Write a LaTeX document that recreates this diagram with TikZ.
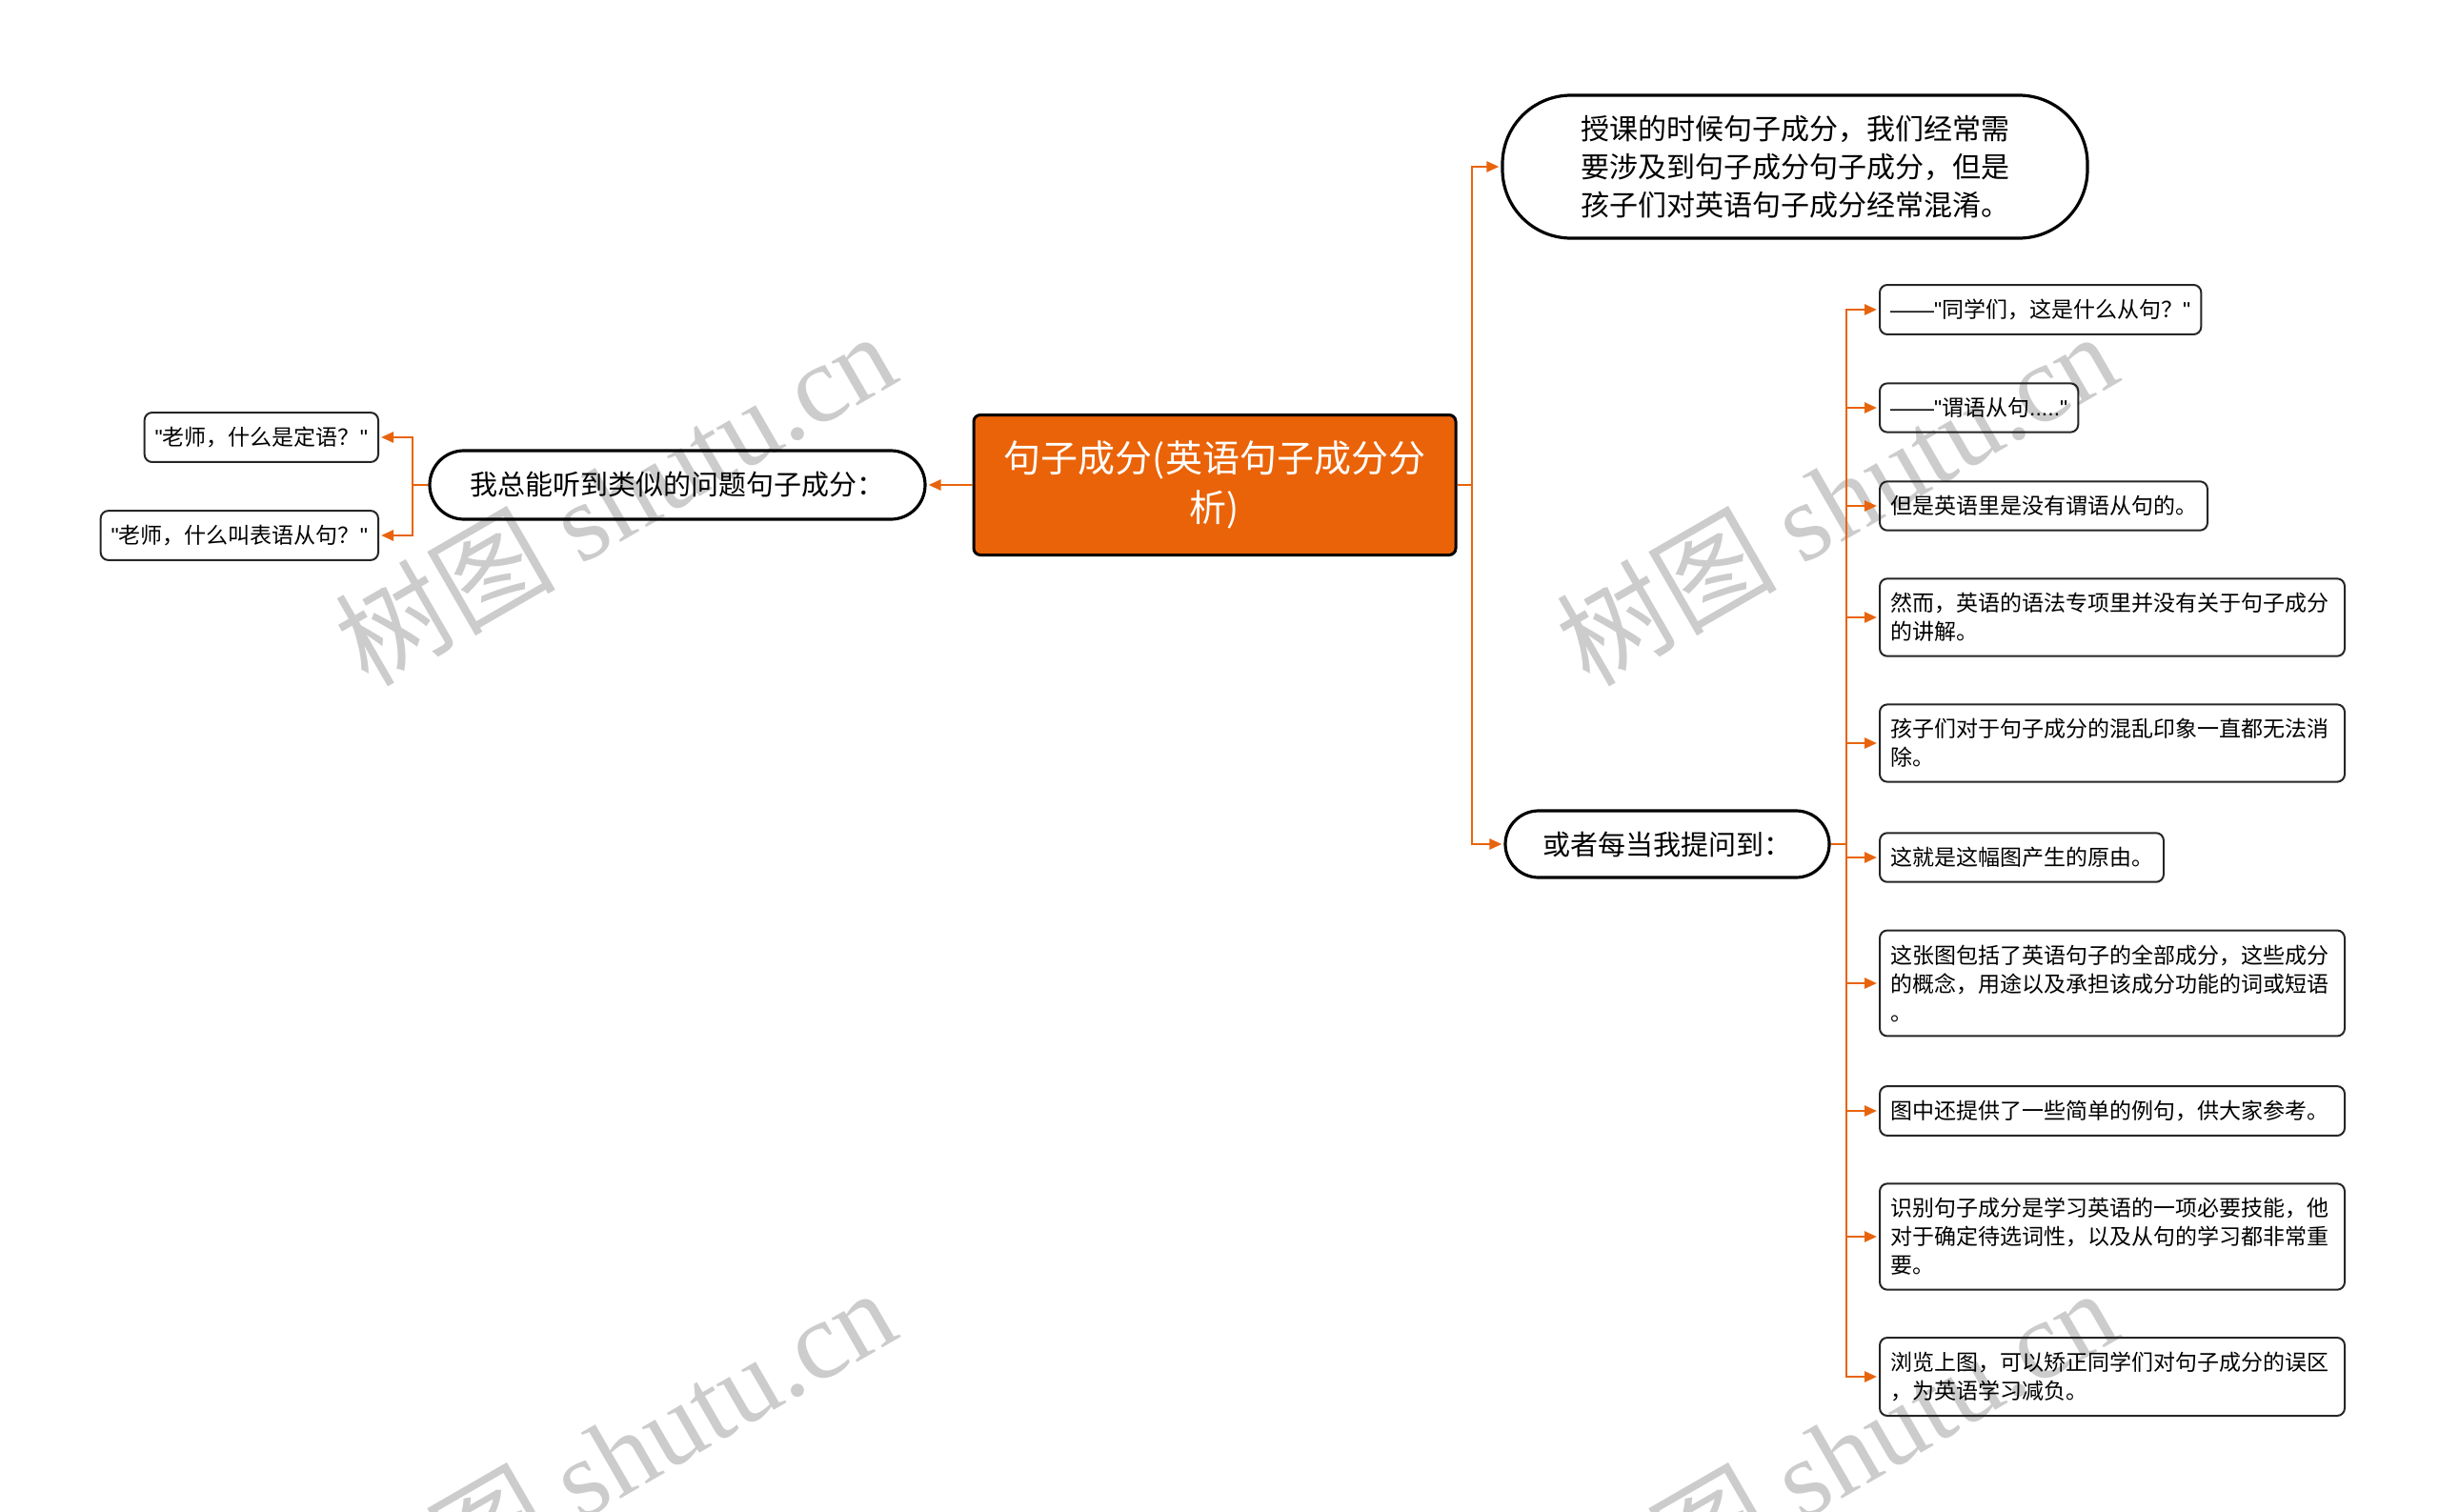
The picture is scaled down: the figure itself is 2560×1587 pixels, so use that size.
\documentclass[tikz,border=0pt]{standalone}
\usepackage{fontspec}
\setmainfont{Noto Sans CJK SC}
\newfontfamily\wmlatin{Liberation Serif}
\newfontfamily\lat{Liberation Sans}
\newcommand\qq{{\lat "}}
\newcommand\dd{{\lat ——}}
\usetikzlibrary{arrows.meta}
\definecolor{brorange}{HTML}{E8640C}
\definecolor{rootfill}{HTML}{EA6308}
\begin{document}
\begin{tikzpicture}[x=1pt,y=-1pt,
  conn/.style={draw=brorange,line width=2.6pt},
  arr/.style={conn,-{Triangle[length=13pt,width=11pt]},shorten >=2pt},
  leaf/.style={draw=black!85,line width=2pt,rounded corners=8pt,inner xsep=11pt,inner ysep=15pt,
    font=\fontsize{23}{30}\selectfont,align=left,anchor=west},
  wide/.style={leaf,text width=466pt},
  pill/.style={draw=black,line width=3.2pt,rounded corners=#1,align=left},
  wm/.style={text=black!20,rotate=30,font=\fontsize{116}{116}\selectfont}
]
\useasboundingbox (0,0) rectangle (2560,1587);
% watermarks
\node[wm] (w1) at (645,522) {树图 {\wmlatin shutu.cn}};
\node[wm] (w2) at (1927,522) {树图 {\wmlatin shutu.cn}};
\node[wm] (w3) at (645,1526) {树图 {\wmlatin shutu.cn}};
\node[wm] (w4) at (1927,1526) {树图 {\wmlatin shutu.cn}};
% root
\node[draw=black,line width=3pt,fill=rootfill,rounded corners=7pt,minimum width=506pt,minimum height=147pt,
  text=white,align=center,font=\fontsize{39}{52}\selectfont] (root) at (1275,509)
  {句子成分(英语句子成分分\\析)};
% main branches
\node[pill=72pt,minimum width=614pt,minimum height=150pt,font=\fontsize{30}{40}\selectfont] (top) at (1884,175)
  {授课的时候句子成分，我们经常需\\要涉及到句子成分句子成分，但是\\孩子们对英语句子成分经常混淆。};
\node[pill=36pt,minimum width=520pt,minimum height=72pt,font=\fontsize{29}{36}\selectfont] (left) at (711,509)
  {我总能听到类似的问题句子成分：};
\node[pill=35pt,minimum width=340pt,minimum height=70pt,font=\fontsize{29}{36}\selectfont] (q) at (1750,886)
  {或者每当我提问到：};
% left leaves
\node[leaf,anchor=east] (l1) at (398,459) {\qq 老师，什么是定语？\qq};
\node[leaf,anchor=east] (l2) at (398,562) {\qq 老师，什么叫表语从句？\qq};
% right leaves
\node[leaf] (r1) at (1972,325) {\dd\qq 同学们，这是什么从句？\qq};
\node[leaf] (r2) at (1972,428) {\dd\qq 谓语从句{\lat .....}\qq};
\node[leaf] (r3) at (1972,531) {但是英语里是没有谓语从句的。};
\node[wide] (r4) at (1972,648) {然而，英语的语法专项里并没有关于句子成分\\的讲解。};
\node[wide] (r5) at (1972,780) {孩子们对于句子成分的混乱印象一直都无法消\\除。};
\node[leaf] (r6) at (1972,900) {这就是这幅图产生的原由。};
\node[wide] (r7) at (1972,1032) {这张图包括了英语句子的全部成分，这些成分\\的概念，用途以及承担该成分功能的词或短语\\。};
\node[wide] (r8) at (1972,1166) {图中还提供了一些简单的例句，供大家参考。};
\node[wide] (r9) at (1972,1298) {识别句子成分是学习英语的一项必要技能，他\\对于确定待选词性，以及从句的学习都非常重\\要。};
\node[wide] (r10) at (1972,1445) {浏览上图，可以矫正同学们对句子成分的误区\\，为英语学习减负。};
% connectors
\coordinate (lj) at (433,509);
\coordinate (rj) at (1545,509);
\coordinate (qj) at (1938,886);
\draw[arr] (root.west) -- (left.east);
\draw[conn] (left.west) -- (lj);
\draw[arr] (lj) |- (l1.east);
\draw[arr] (lj) |- (l2.east);
\draw[conn] (root.east) -- (rj);
\draw[arr] (rj) |- (top.west);
\draw[arr] (rj) |- (q.west);
\draw[conn] (q.east) -- (qj);
\foreach \n in {r1,r2,r3,r4,r5,r6,r7,r8,r9,r10}{\draw[arr] (qj) |- (\n.west);}
\end{tikzpicture}
\end{document}
